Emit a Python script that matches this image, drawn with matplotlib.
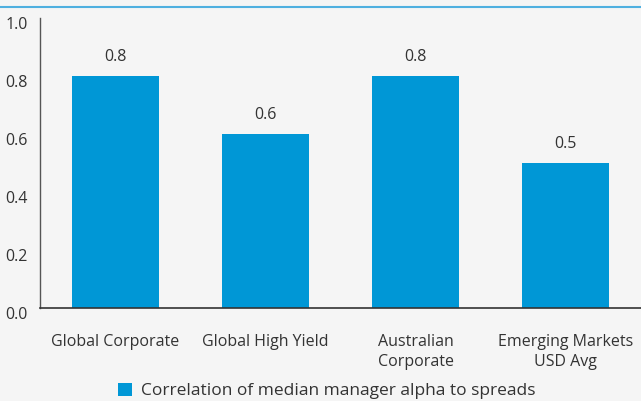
import matplotlib

matplotlib.use("Agg")
import matplotlib.pyplot as plt  # noqa: E402
import matplotlib.transforms as mtransforms  # noqa: E402
import numpy as np  # noqa: E402

categories = ["Global Corporate", "Global High Yield", "Australian\nCorporate", "Emerging Markets\nUSD Avg"]
values = [0.8, 0.6, 0.8, 0.5]
yticks = [0.0, 0.2, 0.4, 0.6, 0.8, 1.0]
series_name = "Correlation of median manager alpha to spreads"

bg = "#f5f5f5"
bar_color = "#0097d6"
text_color = "#333333"

plt.rcParams["font.family"] = ["Open Sans", "DejaVu Sans"]

fig = plt.figure(figsize=(6.41, 4.01), dpi=100, facecolor=bg)
ax = fig.add_axes([40 / 641, 93 / 401, 601 / 641, 290 / 401], facecolor=bg)

x = np.arange(len(categories))
bars = ax.bar(x, values, width=0.58, color=bar_color, label=series_name)

for xi, v in zip(x, values):
    ax.annotate(f"{v:.1f}", (xi, v), xytext=(0, 8), textcoords="offset points",
                ha="center", va="bottom", fontsize=11.5, color=text_color)

ax.set_xlim(-0.5, 3.5)
ax.set_ylim(0, 1.0)
ax.set_yticks(yticks)
ax.set_yticklabels([f"{t:.1f}" for t in yticks])
ax.set_xticks(x)
ax.set_xticklabels(categories, linespacing=1.3)
ax.tick_params(axis="both", length=0, colors=text_color, labelsize=11.5)
ax.tick_params(axis="x", pad=19)
ax.tick_params(axis="y", pad=9)
shift = mtransforms.ScaledTranslation(0, -5 / 100, fig.dpi_scale_trans)
for lbl in ax.get_yticklabels():
    lbl.set_transform(lbl.get_transform() + shift)

for side in ["top", "right"]:
    ax.spines[side].set_visible(False)
ax.spines["left"].set_color("#555555")
ax.spines["bottom"].set_color("#333333")
ax.spines["left"].set_linewidth(1.0)
ax.spines["bottom"].set_linewidth(1.2)

# top rule
fig.add_artist(plt.Line2D([0, 1], [1 - 7 / 401, 1 - 7 / 401], color="#4fb0e0", linewidth=1.5,
                          transform=fig.transFigure))

fig.legend(handles=[bars], labels=[series_name], loc="center", bbox_to_anchor=(327 / 641, 1 - 391 / 401),
           frameon=False, fontsize=12.5, handlelength=0.8, handleheight=0.8, handletextpad=0.5,
           labelcolor=text_color)

fig.savefig("out.png", dpi=100, facecolor=bg)
